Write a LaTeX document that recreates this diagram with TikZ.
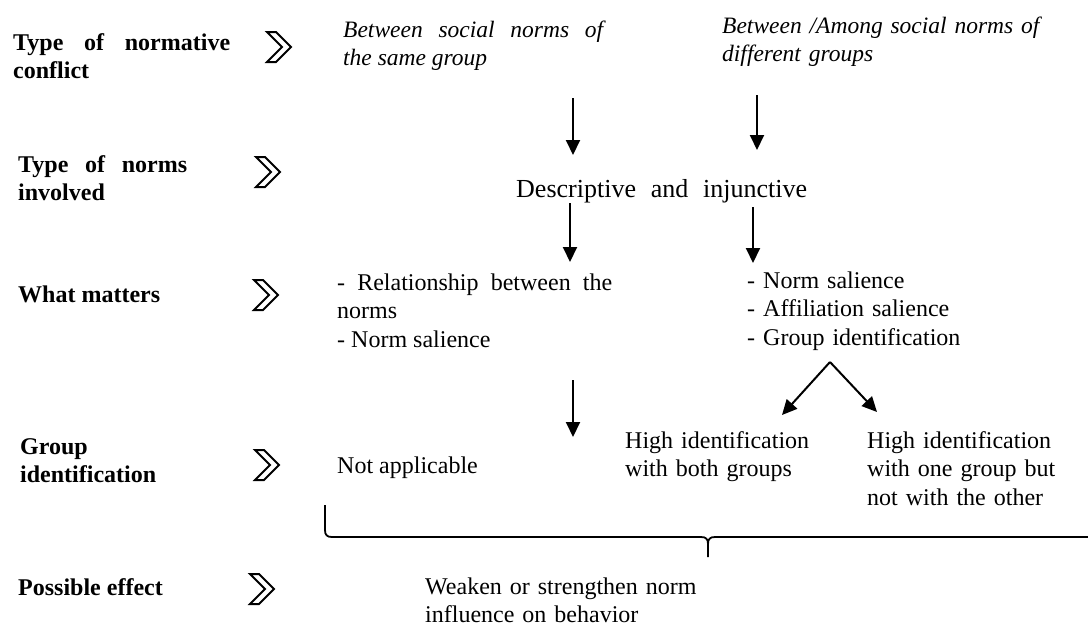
\documentclass[tikz,border=0pt]{standalone}
\usepackage{fontspec}
\setmainfont{Liberation Serif}
\usetikzlibrary{arrows.meta}
\begin{document}
\begin{tikzpicture}[x=1pt,y=-1pt,
  txt/.style={anchor=base west, inner sep=0pt, font=\fontsize{24}{28.5}\selectfont, align=left},
  lbl/.style={anchor=base west, inner sep=0pt, font=\fontsize{24}{28.5}\selectfont\bfseries, align=left},
  itx/.style={anchor=base west, inner sep=0pt, font=\fontsize{23.5}{28.5}\selectfont\itshape, align=left},
  arr/.style={line width=2pt, -{Triangle[length=15pt,width=14pt]}},
  chev/.pic={\draw[line width=2pt, line join=miter] (-12,-15) -- (-3,-15) -- (12,0) -- (-3,15) -- (-12,15) -- (3,0) -- cycle;}]
\useasboundingbox (0,0) rectangle (1088,632);

% row labels
\node[lbl, text width=217pt, align=justify] (l1) at (13,50) {Type of normative conflict};
\node[lbl, text width=169pt, align=justify] (l2) at (18,172) {Type of norms involved};
\node[lbl] (l3) at (18,302) {What matters};
\node[lbl, text width=160pt] (l4) at (20,454) {Group\\identification};
\node[lbl] (l5) at (18,595) {Possible effect};

% chevrons
\pic at (279,47) {chev};
\pic at (268,172) {chev};
\pic at (266,295) {chev};
\pic at (267,465) {chev};
\pic at (262,589) {chev};

% contents
\node[itx, text width=260pt, align=justify] (c1) at (343,37) {Between social norms of\break the same group};
\node[itx, text width=320pt] (c2) at (722,33) {Between /Among social norms of\\different groups};
\node[txt, font=\fontsize{26}{28.5}\selectfont] (c3) at (516,197) {\makebox[291pt][s]{Descriptive and injunctive}};
\node[txt, text width=275pt, align=justify] (c4) at (337,290) {- Relationship between the\break norms\\- Norm salience};
\node[txt, text width=240pt] (c5) at (747,288) {- Norm salience\\- Affiliation salience\\- Group identification};
\node[txt] (c6) at (337,473) {Not applicable};
\node[txt, text width=220pt] (c7) at (625,448) {High identification\\with both groups};
\node[txt, text width=220pt] (c8) at (867,448) {High identification\\with one group but\\not with the other};
\node[txt, text width=300pt] (c9) at (425,594) {Weaken or strengthen norm\\influence on behavior};

% arrow end points
\coordinate (a1s) at (573,98);  \coordinate (a1e) at (573,155);
\coordinate (a2s) at (757,95);  \coordinate (a2e) at (757,150);
\coordinate (a3s) at (570,203); \coordinate (a3e) at (570,262);
\coordinate (a4s) at (753,207); \coordinate (a4e) at (753,263);
\coordinate (a5s) at (573,380); \coordinate (a5e) at (573,437);
\coordinate (vap) at (830,362);
\coordinate (vl) at (782,415);
\coordinate (vr) at (877,412);

\draw[arr] (a1s) -- (a1e);
\draw[arr] (a2s) -- (a2e);
\draw[arr] (a3s) -- (a3e);
\draw[arr] (a4s) -- (a4e);
\draw[arr] (a5s) -- (a5e);
\draw[arr] (vap) -- (vl);
\draw[arr] (vap) -- (vr);

% brace
\coordinate (bl) at (325,505);
\coordinate (bm) at (708,557);
\coordinate (br) at (1090,537);
\draw[line width=1.8pt] (bl) -- (325,530) .. controls (325,535) and (327,537) .. (332,537) -- (701,537) .. controls (706,537) and (708,539) .. (708,544) -- (bm);
\draw[line width=1.8pt] (708,544) .. controls (708,539) and (710,537) .. (715,537) -- (br);
\end{tikzpicture}
\end{document}
